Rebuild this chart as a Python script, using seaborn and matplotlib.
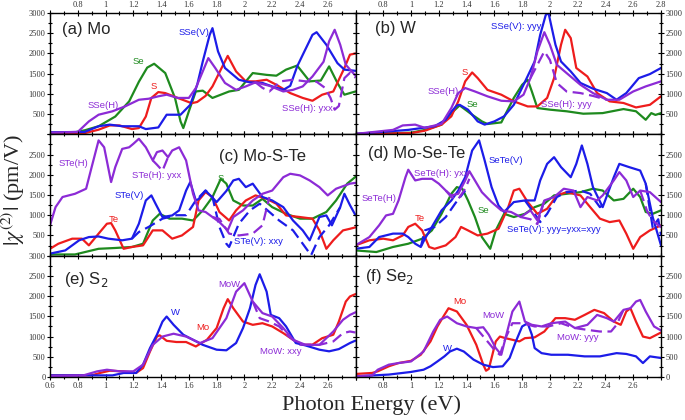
import matplotlib
matplotlib.use("Agg")
import matplotlib.pyplot as plt
import seaborn as sns
from matplotlib.ticker import MultipleLocator, FuncFormatter

# ---------------- data ----------------
# (a) Mo
A_SE_x = [0.60,0.70,0.78,0.85,0.95,1.07,1.17,1.24,1.30,1.35,1.43,1.50,1.54,1.56,1.60,1.65,1.70,1.77,1.83,1.89,1.96,2.06,2.16,2.23,2.30,2.38,2.47,2.55,2.61,2.67,2.72,2.80]
A_SE_y = [40,40,50,100,200,440,815,1300,1650,1745,1515,900,320,155,570,1060,1080,900,980,1060,1100,1515,1470,1450,1600,1700,1310,1330,1680,1270,980,1060]
A_S_x = [0.60,0.85,0.95,1.03,1.10,1.19,1.24,1.29,1.33,1.38,1.43,1.52,1.62,1.66,1.72,1.77,1.83,1.88,1.94,2.01,2.08,2.16,2.23,2.33,2.42,2.49,2.56,2.64,2.72,2.76,2.80]
A_S_y = [20,30,115,220,220,130,155,440,900,1045,1020,900,770,800,950,1185,1600,1940,1555,1310,1310,1350,1225,1020,900,830,980,1060,1640,1970,2000]
A_SSEV_x = [0.60,0.85,0.95,1.03,1.12,1.24,1.29,1.38,1.44,1.54,1.61,1.66,1.70,1.75,1.77,1.81,1.86,1.96,2.04,2.13,2.20,2.28,2.33,2.38,2.42,2.49,2.52,2.59,2.67,2.72,2.80]
A_SSEV_y = [50,60,200,240,200,200,130,170,485,485,730,1225,1800,2460,2625,2050,1640,1350,1285,1270,1185,1100,1200,1680,1965,2460,2525,2215,1760,1600,1570]
A_SSEH_x = [0.60,0.80,0.88,0.95,1.05,1.14,1.24,1.31,1.38,1.44,1.52,1.60,1.65,1.70,1.74,1.79,1.86,1.94,2.01,2.08,2.18,2.28,2.35,2.42,2.49,2.57,2.61,2.65,2.69,2.73,2.80]
A_SSEH_y = [40,60,320,485,570,690,855,880,940,980,900,900,1145,1555,1885,1640,1270,1100,1185,1285,1200,1060,1100,1185,1430,1795,2300,2585,2215,1720,1450]
A_SSEHD_x = [2.08,2.13,2.18,2.26,2.35,2.44,2.52,2.58,2.62,2.65,2.68,2.72,2.76,2.80]
A_SSEHD_y = [1285,1150,1060,1310,1350,1310,1300,1150,900,610,700,1390,1520,1400]

# (b) W
B_S_x = [0.60,1.00,1.10,1.22,1.29,1.34,1.39,1.44,1.48,1.55,1.65,1.74,1.84,1.91,1.98,2.03,2.08,2.11,2.15,2.19,2.27,2.34,2.43,2.53,2.62,2.72,2.80]
B_S_y = [10,30,90,240,445,815,1310,1530,1390,1100,980,815,690,690,900,1390,2215,2585,2380,1640,1430,1020,815,775,665,730,940]
B_SE_x = [0.60,1.00,1.10,1.22,1.29,1.35,1.44,1.51,1.55,1.65,1.74,1.80,1.84,1.87,1.91,2.00,2.12,2.24,2.38,2.53,2.62,2.69,2.73,2.76,2.80]
B_SE_y = [10,40,110,240,525,715,485,320,255,295,900,1225,1350,1060,650,610,570,510,525,625,570,360,525,480,525]
B_SSEV_x = [0.60,0.98,1.17,1.25,1.29,1.33,1.35,1.41,1.48,1.53,1.60,1.67,1.74,1.81,1.89,1.93,1.97,1.99,2.04,2.08,2.15,2.22,2.31,2.41,2.48,2.55,2.64,2.72,2.80]
B_SSEV_y = [10,110,200,360,560,715,730,610,320,240,320,445,730,1225,1800,2460,2950,3000,2215,1800,1555,1270,1130,1020,855,1020,1390,1490,1640]
B_SSEH_x = [0.60,0.87,0.94,1.03,1.10,1.22,1.29,1.34,1.39,1.46,1.55,1.65,1.74,1.81,1.86,1.91,1.96,2.00,2.05,2.12,2.22,2.31,2.41,2.50,2.60,2.69,2.80]
B_SSEH_y = [10,110,220,240,160,260,650,1020,1145,1060,940,830,815,980,1390,2050,2525,2215,1720,1515,1225,1020,855,855,1060,1185,1310]
B_SSEHD_x = [1.86,1.91,1.96,2.00,2.05,2.12,2.22,2.31,2.41]
B_SSEHD_y = [1390,1720,2050,1840,1270,1060,1020,950,855]

# (c) Mo-S-Te
C_STEH_x = [0.60,0.64,0.69,0.78,0.86,0.90,0.95,0.99,1.04,1.07,1.12,1.17,1.20,1.24,1.29,1.34,1.37,1.41,1.45,1.48,1.53,1.58,1.63,1.67,1.72,1.77,1.82,1.88,1.92,1.99,2.06,2.13,2.20,2.28,2.33,2.40,2.47,2.54,2.60,2.66,2.76,2.80]
C_STEH_y = [750,1200,1450,1530,1655,2190,2850,2680,1820,2190,2640,2680,2765,2890,2680,2355,2560,2600,2435,2600,2680,2355,1530,1120,1080,955,830,625,955,1120,1365,1530,1610,1940,2025,1985,1860,1695,1490,1655,1780,1800]
C_STEHD1_x = [1.34,1.37,1.41,1.45]
C_STEHD1_y = [2355,2250,2100,2435]
C_STEHD2_x = [1.77,1.82,1.89,1.96,2.06,2.13,2.18]
C_STEHD2_y = [955,910,545,500,545,750,1450]
C_STEV_x = [0.60,0.71,0.81,0.88,0.95,1.02,1.12,1.19,1.24,1.29,1.33,1.36,1.41,1.48,1.53,1.58,1.61,1.65,1.67,1.72,1.80,1.87,1.92,1.96,2.01,2.06,2.13,2.20,2.28,2.35,2.42,2.47,2.54,2.59,2.63,2.69,2.72,2.76,2.80]
C_STEV_y = [50,130,380,460,475,420,380,420,790,1365,1490,1285,955,995,1120,1610,1820,1365,1400,1610,1325,1600,1860,1900,1695,1780,1450,1365,1200,870,625,380,955,995,750,1200,1530,1250,1000]
C_STEVD_x = [1.19,1.24,1.31,1.41,1.51,1.58,1.65,1.72,1.77,1.82,1.87,1.89,1.96,2.04,2.11,2.18,2.25,2.35,2.42,2.48,2.54,2.61,2.69]
C_STEVD_y = [420,585,710,915,1000,1000,1365,1610,1450,710,295,215,790,1120,1285,1080,870,625,295,10,460,750,1200]
C_TE_x = [0.60,0.66,0.76,0.83,0.88,0.95,1.01,1.04,1.07,1.13,1.19,1.27,1.34,1.41,1.48,1.55,1.63,1.67,1.72,1.77,1.82,1.89,1.94,2.01,2.08,2.16,2.23,2.30,2.40,2.49,2.54,2.59,2.64,2.71,2.76,2.80]
C_TE_y = [170,295,420,420,255,545,790,805,625,170,215,255,625,625,420,500,710,1365,1570,1450,1080,870,1120,1365,1490,1405,1285,995,955,915,625,170,380,625,665,700]
C_S_x = [0.60,0.78,0.95,1.07,1.19,1.27,1.34,1.39,1.46,1.55,1.63,1.70,1.77,1.83,1.87,1.92,1.99,2.06,2.13,2.20,2.30,2.40,2.49,2.59,2.66,2.74,2.80]
C_S_y = [30,30,170,190,215,295,870,1035,915,915,870,1120,1450,1900,1780,1365,1240,1240,1405,1200,1035,915,915,1080,1365,1780,1950]

# (d) Mo-Se-Te
D_SETEH_x = [0.60,0.70,0.77,0.82,0.87,0.91,0.96,0.98,1.03,1.08,1.15,1.20,1.25,1.29,1.34,1.39,1.42,1.46,1.51,1.58,1.65,1.72,1.79,1.86,1.91,1.96,2.03,2.10,2.17,2.22,2.27,2.34,2.38,2.46,2.50,2.55,2.60,2.65,2.72,2.80]
D_SETEH_y = [255,460,750,995,1035,1365,1940,2125,1860,1900,1900,1780,1610,1490,1530,1860,2090,1860,1570,1325,1120,1080,955,1120,870,1365,1450,1655,1610,1200,1450,1365,1490,1860,2065,1860,1450,1610,1570,1325]
D_SETEHD1_x = [1.25,1.29,1.34,1.39,1.42]
D_SETEHD1_y = [1610,1450,1400,1655,1900]
D_SETEHD2_x = [1.79,1.86,1.91,1.96]
D_SETEHD2_y = [955,900,780,1365]
D_SETEHD3_x = [2.65,2.70,2.74,2.80]
D_SETEHD3_y = [1610,1100,870,700]
D_SETEV_x = [0.60,0.70,0.77,0.87,0.94,0.98,1.03,1.07,1.10,1.15,1.22,1.29,1.34,1.39,1.44,1.49,1.53,1.58,1.63,1.67,1.74,1.82,1.89,1.93,1.98,2.03,2.08,2.15,2.19,2.23,2.27,2.31,2.38,2.46,2.50,2.57,2.65,2.69,2.74,2.80]
D_SETEV_y = [170,215,460,545,545,460,295,215,420,710,1120,1365,1610,1940,2600,2850,2355,1695,1240,1080,1325,1365,1365,1860,2270,2435,2190,1940,2270,2725,2270,1695,1200,1940,2270,2190,2105,1780,955,255]
D_SETEVD1_x = [1.07,1.10,1.17,1.25,1.32,1.39]
D_SETEVD1_y = [215,625,710,955,1300,1610]
D_SETEVD2_x = [1.82,1.89,1.93,1.98,2.05,2.12,2.22,2.29,2.36,2.40]
D_SETEVD2_y = [1365,1035,830,1035,1450,1570,1610,1530,1200,1300]
D_SETEVD3_x = [2.69,2.74,2.78,2.80]
D_SETEVD3_y = [1780,700,900,500]
D_TE_x = [0.60,0.70,0.80,0.87,0.94,0.98,1.03,1.08,1.13,1.17,1.25,1.32,1.36,1.41,1.48,1.55,1.63,1.70,1.74,1.78,1.84,1.91,1.98,2.05,2.12,2.22,2.29,2.36,2.43,2.50,2.55,2.60,2.65,2.72,2.80]
D_TE_y = [255,380,420,380,500,710,790,625,215,170,255,460,710,625,500,545,665,1200,1610,1655,1325,1035,1160,1490,1570,1490,1200,915,830,870,545,170,460,625,750]
D_SE_x = [0.60,0.75,0.87,0.98,1.08,1.15,1.22,1.29,1.33,1.37,1.41,1.46,1.51,1.57,1.61,1.67,1.74,1.82,1.89,1.96,2.03,2.12,2.22,2.31,2.38,2.46,2.53,2.60,2.65,2.69,2.74,2.80]
D_SE_y = [130,90,215,295,420,625,1035,1530,1695,1650,1365,955,460,170,625,1035,955,1035,1200,1285,1490,1530,1570,1655,1610,1365,1405,1655,1450,1080,1035,1120]

# (e) S2
E_MO_x = [0.60,0.90,0.96,1.03,1.13,1.22,1.27,1.32,1.37,1.39,1.44,1.51,1.58,1.65,1.73,1.80,1.85,1.88,1.92,1.99,2.06,2.13,2.20,2.28,2.35,2.42,2.49,2.56,2.64,2.68,2.73,2.76,2.80]
E_MO_y = [40,40,100,155,140,100,220,630,1000,1030,895,865,865,755,920,1210,1700,1925,1700,1370,1290,1330,1250,1085,920,795,800,960,1045,1370,1865,1990,2050]
E_W_x = [0.60,1.05,1.13,1.22,1.27,1.32,1.37,1.41,1.44,1.49,1.56,1.63,1.70,1.80,1.87,1.94,1.99,2.04,2.08,2.11,2.16,2.19,2.25,2.30,2.37,2.44,2.54,2.61,2.68,2.76,2.80]
E_W_y = [40,40,100,100,305,715,1045,1370,1495,1290,1045,920,795,675,660,840,1210,1700,2275,2540,2110,1535,1455,1250,840,780,675,635,690,840,900]
E_MOW_x = [0.60,0.84,0.94,1.01,1.10,1.20,1.27,1.34,1.41,1.49,1.58,1.68,1.77,1.87,1.94,2.00,2.06,2.13,2.20,2.28,2.35,2.44,2.54,2.64,2.71,2.76,2.80]
E_MOW_y = [20,40,140,180,140,140,305,795,1000,1070,1000,840,960,1455,2110,2320,1865,1580,1495,1210,920,795,795,1125,1415,1535,1600]
E_MOWD_x = [2.06,2.11,2.18,2.25,2.32,2.40,2.54,2.64,2.71,2.76,2.80]
E_MOWD_y = [1865,1455,1370,1250,1000,800,795,880,1085,1125,1100]

# (f) Se2
F_MO_x = [0.60,0.72,0.76,0.84,0.91,1.00,1.07,1.14,1.19,1.24,1.27,1.33,1.40,1.47,1.52,1.54,1.56,1.61,1.64,1.68,1.73,1.78,1.82,1.89,1.96,2.04,2.11,2.18,2.25,2.32,2.39,2.46,2.51,2.55,2.58,2.62,2.67,2.72,2.80]
F_MO_y = [75,100,140,265,345,400,550,880,1250,1535,1700,1620,1290,795,305,155,200,880,1000,960,920,880,960,980,1125,1455,1455,1415,1535,1660,1580,1370,1290,1620,1700,1370,1000,960,1100]
F_W_x = [0.60,0.84,1.00,1.09,1.14,1.19,1.24,1.28,1.33,1.38,1.45,1.52,1.59,1.66,1.71,1.75,1.80,1.84,1.87,1.89,1.94,2.01,2.13,2.25,2.36,2.48,2.55,2.62,2.67,2.72,2.80]
F_W_y = [15,60,125,180,265,385,510,630,700,630,430,305,245,265,470,840,1250,1330,1045,715,590,550,550,510,510,590,570,510,345,510,470]
F_MOW_x = [0.60,0.72,0.76,0.84,0.91,1.00,1.09,1.16,1.21,1.26,1.33,1.40,1.47,1.52,1.56,1.61,1.65,1.68,1.73,1.78,1.82,1.87,1.94,2.01,2.11,2.18,2.27,2.34,2.41,2.46,2.53,2.58,2.62,2.65,2.69,2.75,2.80]
F_MOW_y = [15,40,180,305,345,385,630,1125,1415,1495,1330,1250,1210,1230,1045,715,550,960,1620,1865,1370,1290,1250,1330,1370,1210,1290,1535,1455,1370,1660,1700,1865,1905,1620,1250,1150]
F_MOWD_x = [1.47,1.49,1.56,1.61,1.64,1.68,1.73,1.80,1.89,1.99,2.08,2.18,2.27,2.36,2.44,2.48,2.53]
F_MOWD_y = [1210,1125,840,630,550,960,1330,1330,1250,1250,1330,1210,1165,1125,1125,1290,1660]

# ---------------- styling ----------------
RED, GREEN, BLUE, PURPLE = "#ee1c1c", "#1e8a1e", "#1c1ce8", "#8c2bd6"

sns.set_theme(style="ticks")
plt.rcParams["font.family"] = ["Liberation Sans", "DejaVu Sans"]

fig = plt.figure(figsize=(6.85, 4.2), dpi=100)
gs = fig.add_gridspec(3, 2, left=50/685, right=661/685, top=1-13/420,
                      bottom=1-377/420, hspace=0, wspace=0)
axes = [[fig.add_subplot(gs[r, c]) for c in range(2)] for r in range(3)]

DASH = (0, (5, 2.5))


def draw(ax, x, y, color, dashed=False):
    sns.lineplot(x=x, y=y, ax=ax, color=color, lw=1.6,
                 linestyle=DASH if dashed else "-", sort=False)


def label(ax, x, y, s, color):
    ax.text(x, y, s, color=color, fontsize=6.8, ha="center", va="center",
            family=["Liberation Sans", "DejaVu Sans"])


def panel(ax, x, y, s):
    ax.text(x, y, s, fontsize=12, ha="left", va="center",
            family=["Liberation Sans", "DejaVu Sans"], math_fontfamily="dejavusans")


# (a)
ax = axes[0][0]
draw(ax, A_SE_x, A_SE_y, GREEN); draw(ax, A_S_x, A_S_y, RED)
draw(ax, A_SSEV_x, A_SSEV_y, BLUE); draw(ax, A_SSEH_x, A_SSEH_y, PURPLE)
draw(ax, A_SSEHD_x, A_SSEHD_y, PURPLE, True)
panel(ax, 0.69, 2600, "(a) Mo")
label(ax, 1.24, 1790, "Se", GREEN); label(ax, 1.35, 1190, "S", RED)
label(ax, 1.64, 2530, "SSe(V)", BLUE); label(ax, 0.98, 720, "SSe(H)", PURPLE)
label(ax, 2.45, 640, "SSe(H): yxx", PURPLE)

# (b)
ax = axes[0][1]
draw(ax, B_SE_x, B_SE_y, GREEN); draw(ax, B_S_x, B_S_y, RED)
draw(ax, B_SSEV_x, B_SSEV_y, BLUE); draw(ax, B_SSEH_x, B_SSEH_y, PURPLE)
draw(ax, B_SSEHD_x, B_SSEHD_y, PURPLE, True)
panel(ax, 0.74, 2620, "(b) W")
label(ax, 1.39, 1520, "S", RED); label(ax, 1.23, 1060, "SSe(H)", PURPLE)
label(ax, 1.44, 735, "Se", GREEN); label(ax, 1.76, 2670, "SSe(V): yyy", BLUE)
label(ax, 2.12, 735, "SSe(H): yyy", PURPLE)

# (c)
ax = axes[1][0]
draw(ax, C_S_x, C_S_y, GREEN); draw(ax, C_TE_x, C_TE_y, RED)
draw(ax, C_STEV_x, C_STEV_y, BLUE); draw(ax, C_STEVD_x, C_STEVD_y, BLUE, True)
draw(ax, C_STEH_x, C_STEH_y, PURPLE)
draw(ax, C_STEHD1_x, C_STEHD1_y, PURPLE, True); draw(ax, C_STEHD2_x, C_STEHD2_y, PURPLE, True)
panel(ax, 1.82, 2440, "(c) Mo-S-Te")
label(ax, 0.77, 2270, "STe(H)", PURPLE); label(ax, 1.37, 1970, "STe(H): yxx", PURPLE)
label(ax, 1.17, 1490, "STe(V)", BLUE); label(ax, 1.06, 890, "Te", RED)
label(ax, 1.83, 1900, "S", GREEN); label(ax, 2.10, 355, "STe(V): xxy", BLUE)

# (d)
ax = axes[1][1]
draw(ax, D_SE_x, D_SE_y, GREEN); draw(ax, D_TE_x, D_TE_y, RED)
draw(ax, D_SETEV_x, D_SETEV_y, BLUE)
draw(ax, D_SETEVD1_x, D_SETEVD1_y, BLUE, True); draw(ax, D_SETEVD2_x, D_SETEVD2_y, BLUE, True)
draw(ax, D_SETEVD3_x, D_SETEVD3_y, BLUE, True)
draw(ax, D_SETEH_x, D_SETEH_y, PURPLE)
draw(ax, D_SETEHD1_x, D_SETEHD1_y, PURPLE, True); draw(ax, D_SETEHD2_x, D_SETEHD2_y, PURPLE, True)
draw(ax, D_SETEHD3_x, D_SETEHD3_y, PURPLE, True)
panel(ax, 0.69, 2520, "(d) Mo-Se-Te")
label(ax, 1.685, 2350, "SeTe(V)", BLUE); label(ax, 1.22, 2025, "SeTe(H): yxx", PURPLE)
label(ax, 0.77, 1407, "SeTe(H)", PURPLE); label(ax, 1.06, 915, "Te", RED)
label(ax, 1.52, 1120, "Se", GREEN); label(ax, 2.03, 650, "SeTe(V): yyy=yxx=xyy", BLUE)

# (e)
ax = axes[2][0]
draw(ax, E_MO_x, E_MO_y, RED); draw(ax, E_W_x, E_W_y, BLUE)
draw(ax, E_MOW_x, E_MOW_y, PURPLE); draw(ax, E_MOWD_x, E_MOWD_y, PURPLE, True)
panel(ax, 0.70, 2400, "(e) S$_2$")
label(ax, 1.50, 1595, "W", BLUE); label(ax, 1.70, 1225, "Mo", RED)
label(ax, 1.89, 2290, "MoW", PURPLE); label(ax, 2.26, 635, "MoW: xxy", PURPLE)

# (f)
ax = axes[2][1]
draw(ax, F_MO_x, F_MO_y, RED); draw(ax, F_W_x, F_W_y, BLUE)
draw(ax, F_MOW_x, F_MOW_y, PURPLE); draw(ax, F_MOWD_x, F_MOWD_y, PURPLE, True)
panel(ax, 0.67, 2480, "(f) Se$_2$")
label(ax, 1.35, 1865, "Mo", RED); label(ax, 1.59, 1510, "MoW", PURPLE)
label(ax, 1.26, 715, "W", BLUE); label(ax, 2.20, 980, "MoW: yyy", PURPLE)

# ---------------- axes / ticks ----------------
ylab_allowed = {(0, 0): {500, 1000, 1500, 2000, 2500, 3000},
                (1, 0): {500, 1000, 1500, 2000, 2500},
                (2, 0): {0, 500, 1000, 1500, 2000, 2500, 3000},
                (0, 1): {500, 1000, 1500, 2000, 2500, 3000},
                (1, 1): {500, 1000, 1500, 2000, 2500},
                (2, 1): {0, 500, 1000, 1500, 2000, 2500}}
xlab_allowed = {(0, 0): [0.8, 1.0, 1.2, 1.4, 1.6, 1.8, 2.0, 2.2, 2.4, 2.6],
                (0, 1): [0.8, 1.0, 1.2, 1.4, 1.6, 1.8, 2.0, 2.2, 2.4, 2.6, 2.8],
                (2, 0): [0.6, 0.8, 1.0, 1.2, 1.4, 1.6, 1.8, 2.0, 2.2, 2.4, 2.6],
                (2, 1): [0.8, 1.0, 1.2, 1.4, 1.6, 1.8, 2.0, 2.2, 2.4, 2.6]}


def yfmt(allowed):
    return FuncFormatter(lambda v, p: f"{int(round(v))}" if int(round(v)) in allowed else "")


def xfmt(allowed):
    return FuncFormatter(lambda v, p: (f"{v:g}" if any(abs(v - a) < 1e-6 for a in allowed) else ""))


for r in range(3):
    for c in range(2):
        ax = axes[r][c]
        ax.set_xlim(0.6, 2.8)
        ax.set_ylim(0, 3000)
        ax.set_xlabel(""); ax.set_ylabel("")
        ax.xaxis.set_major_locator(MultipleLocator(0.2))
        ax.xaxis.set_minor_locator(MultipleLocator(0.1))
        ax.yaxis.set_major_locator(MultipleLocator(500))
        ax.yaxis.set_minor_locator(MultipleLocator(250))
        for sp in ax.spines.values():
            sp.set_visible(True); sp.set_color("black"); sp.set_linewidth(1.0)
        ax.set_facecolor("white")
        ax.tick_params(which="both", direction="inout", top=True, bottom=True,
                       left=True, right=True, color="black", width=0.8,
                       labelsize=6.0, pad=0.8, labelfontfamily="Liberation Serif",
                       labelcolor="#333333")
        ax.tick_params(which="major", length=5)
        ax.tick_params(which="minor", length=3)
        ax.tick_params(labelleft=(c == 0), labelright=(c == 1),
                       labeltop=(r == 0), labelbottom=(r == 2))
        if r == 0:
            ax.tick_params(axis="x", pad=0.2)
        ax.yaxis.set_major_formatter(yfmt(ylab_allowed[(r, c)]))
        if (r, c) in xlab_allowed:
            ax.xaxis.set_major_formatter(xfmt(xlab_allowed[(r, c)]))

fig.text(372/685, 1-405/420, "Photon Energy (eV)", family="Liberation Serif",
         fontsize=16, ha="center", va="center")
fig.text(13/685, 1-190/420, r"$|\chi^{(2)}|$ (pm/V)", family="Liberation Serif",
         fontsize=16, ha="center", va="center", rotation=90, math_fontfamily="stix")

fig.savefig("out.png", dpi=100, facecolor="white")
